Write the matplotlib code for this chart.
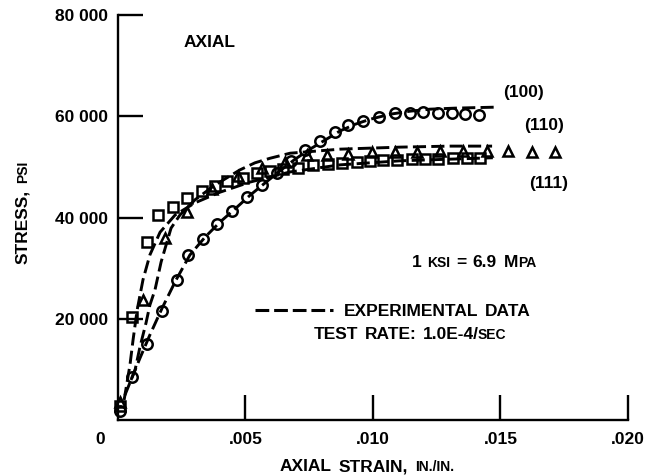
import matplotlib
matplotlib.use("Agg")
import matplotlib.pyplot as plt
from matplotlib.lines import Line2D

W, H = 649, 475

plt.rcParams['font.family'] = ['Liberation Sans', 'DejaVu Sans']
plt.rcParams['font.weight'] = 'bold'

# (100) open circles
c_strain = [0.00008, 0.00054, 0.00113, 0.00171, 0.0023, 0.00276, 0.00335, 0.00389,
            0.00448, 0.00504, 0.00564, 0.00624, 0.00678, 0.00733, 0.00792, 0.00851,
            0.00902, 0.00961, 0.01024, 0.01086, 0.01145, 0.01196, 0.01255, 0.0131,
            0.01361, 0.01416]
c_stress = [1800, 8550, 14950, 21530, 27650, 32590, 35690, 38710,
            41280, 44100, 46410, 48780, 51150, 53330, 55100, 56880,
            58260, 59050, 59840, 60690, 60690, 60890, 60690, 60570,
            60440, 60340]

# (110) triangles
t_strain = [0.00008, 0.00098, 0.00184, 0.00271, 0.00369, 0.00471, 0.00565, 0.00655,
            0.00741, 0.0082, 0.00902, 0.00996, 0.01086, 0.01173, 0.01263, 0.01353,
            0.01447, 0.01529, 0.01624, 0.01714]
t_stress = [3600, 23700, 35900, 41100, 45600, 48200, 49800, 51000,
            52300, 52300, 52500, 53000, 53000, 53000, 53200, 53200,
            53200, 53200, 53000, 53000]

# (111) squares
s_strain = [0.00008, 0.00054, 0.00113, 0.00158, 0.00217, 0.00269, 0.00328, 0.0038,
            0.00427, 0.0049, 0.00545, 0.00596, 0.00648, 0.00707, 0.00765, 0.00824,
            0.00877, 0.00936, 0.00988, 0.01039, 0.01093, 0.01152, 0.01204, 0.01256,
            0.01315, 0.01367, 0.0142]
s_stress = [2700, 20400, 35200, 40500, 42000, 43900, 45300, 46200,
            47200, 47900, 48800, 49200, 49600, 49700, 50400, 50600,
            50800, 51000, 51200, 51400, 51400, 51500, 51500, 51500,
            51700, 51700, 51800]

# experimental data (dashed)
e100_strain = [0.00051, 0.00086, 0.00125, 0.00173, 0.00227, 0.00282, 0.00341, 0.004,
               0.00459, 0.00518, 0.00576, 0.00635, 0.00694, 0.00753, 0.00812, 0.00871,
               0.00929, 0.00988, 0.01067, 0.01145, 0.01224, 0.01322, 0.014, 0.01486]
e100_stress = [7900, 12200, 16800, 22100, 27600, 32600, 36100, 39100,
               41700, 44400, 46800, 49200, 51500, 53500, 55300, 57100,
               58400, 59400, 60400, 61000, 61400, 61600, 61700, 61800]

e110_strain = [0.00027, 0.00067, 0.00086, 0.0011, 0.00125, 0.00145, 0.00169, 0.00208,
               0.00243, 0.00302, 0.0038, 0.00478, 0.00537, 0.00596, 0.00675, 0.00871,
               0.01106, 0.01302, 0.01467]
e110_stress = [4900, 9900, 14400, 19200, 22700, 25700, 31200, 37900,
               40500, 43500, 46400, 49400, 50800, 51700, 52700, 53500,
               53900, 54100, 54100]

e111_strain = [0.00024, 0.00047, 0.00059, 0.00075, 0.00098, 0.00125, 0.00165, 0.00224,
               0.00302, 0.004, 0.00518, 0.00675, 0.00871, 0.01106, 0.0147]
e111_stress = [3950, 10900, 15800, 21700, 27700, 32600, 37100, 40500,
               42900, 45000, 47000, 49000, 50400, 51200, 51800]

x_ticks = [0.005, 0.010, 0.015, 0.020]
x_labels = ['.005', '.010', '.015', '.020']
y_ticks = [20000, 40000, 60000, 80000]
y_labels = ['20 000', '40 000', '60 000', '80 000']

fig = plt.figure(figsize=(W / 100, H / 100), dpi=100)
ax = fig.add_axes([118 / W, 1 - 420 / H, 510 / W, 405 / H])

dash = (4.5, 1.8)
for xs, ys in [(e100_strain, e100_stress), (e110_strain, e110_stress),
               (e111_strain, e111_stress)]:
    ax.plot(xs, ys, color='black', lw=2.1, dashes=dash, clip_on=False)

mk = dict(ls='none', mfc='none', mec='black', mew=1.8, clip_on=False)
ax.plot(c_strain, c_stress, marker='o', ms=7.5, **mk)
ax.plot(t_strain, t_stress, marker='^', ms=7, **mk)
ax.plot(s_strain, s_stress, marker='s', ms=7, **mk)

ax.set_xlim(0, 0.020)
ax.set_ylim(0, 80000)
for side in ['top', 'right']:
    ax.spines[side].set_visible(False)
for side in ['left', 'bottom']:
    ax.spines[side].set_linewidth(1.7)

ax.set_xticks(x_ticks)
ax.set_xticklabels(x_labels)
ax.set_yticks(y_ticks)
ax.set_yticklabels(y_labels)
ax.tick_params(axis='both', direction='in', width=1.7, labelsize=12.5)
ax.tick_params(axis='x', length=18, pad=9)
ax.tick_params(axis='y', length=18, pad=7)
ax.annotate('0', xy=(0, 0), xytext=(-13, -9), textcoords='offset points',
            ha='center', va='top', fontsize=12.5)


def put(x, y, parts, rot=0):
    # pieces drawn one after another, centred on (x, y) pixels from top-left, y = baseline
    r = fig.canvas.get_renderer()
    texts, sizes = [], []
    for txt, size, gap in parts:
        t = fig.text(0, 0, txt, fontsize=size, rotation=rot,
                     rotation_mode='anchor', ha='left', va='baseline')
        bb = t.get_window_extent(r)
        texts.append(t)
        sizes.append((bb.height if rot else bb.width) + gap)
    total = sum(sizes) - parts[-1][2]
    pos = (y + total / 2) if rot else (x - total / 2)
    for t, s in zip(texts, sizes):
        if rot:
            t.set_position((x / W, 1 - pos / H))
            pos -= s
        else:
            t.set_position((pos / W, 1 - y / H))
            pos += s


put(210, 47, [('AXIAL', 12.5, 0)])
put(524, 97, [('(100)', 12.5, 0)])
put(544, 130, [('(110)', 12.5, 0)])
put(549, 188, [('(111)', 12.5, 0)])
put(474, 267, [('1', 12.5, 6), ('KSI', 10, 6), ('=', 12.5, 6), ('6.9', 12.5, 7),
               ('M', 12.5, 0), ('PA', 10, 0)])
put(437, 316, [('EXPERIMENTAL', 12.5, 6), ('DATA', 12.5, 0)])
put(410, 339, [('TEST', 12.5, 6), ('RATE:', 12.5, 6), ('1.0E-4/', 12.5, -1), ('SEC', 10, 0)])
put(367, 471, [('AXIAL', 12.5, 7), ('STRAIN,', 12.5, 7), ('IN./IN.', 10, 0)])
put(27, 212, [('STRESS,', 12.5, 7), ('PSI', 10, 0)], rot=90)

fig.add_artist(Line2D([255 / W, 333 / W], [1 - 310 / H, 1 - 310 / H],
                      color='black', lw=2.2, dashes=(4.5, 1.6)))

fig.savefig('out.png', dpi=100)
